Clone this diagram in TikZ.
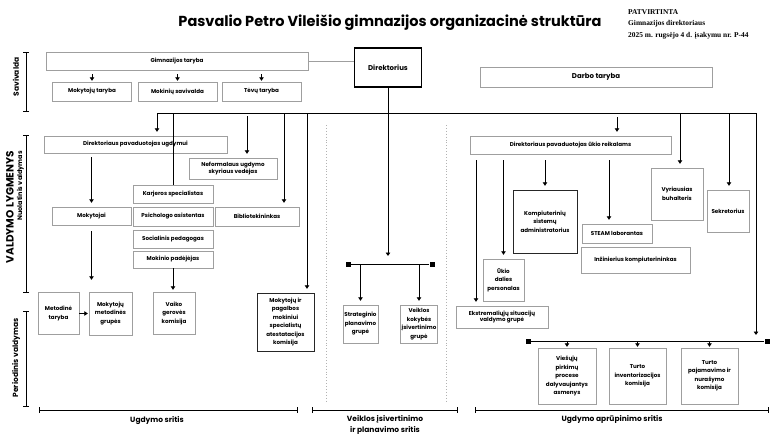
\documentclass[tikz,border=0pt]{standalone}
\usepackage{fontspec}
\setmainfont{Poppins}
\newfontfamily\timesfont{Liberation Serif}
\usetikzlibrary{arrows.meta,calc}

\begin{document}
\begin{tikzpicture}[
  x=1pt, y=-1pt,
  box/.style={draw=gray!75, fill=white, align=center, inner sep=1pt, font=\bfseries\fontsize{5.6}{8.5}\selectfont},
  bbox/.style={box, draw=black!85},
  arr/.style={-{Triangle[length=3.5pt,width=4.5pt]}, line width=1pt, shorten >=4pt},
  ln/.style={line width=1pt},
  brk/.style={{Bar[width=6pt]}-{Bar[width=6pt]}, line width=1pt},
  sq/.style={fill, minimum size=5pt, inner sep=0pt},
  lbl/.style={font=\bfseries\fontsize{7.5}{11.5}\selectfont, align=center, inner sep=0pt}
]
\useasboundingbox (0,0) rectangle (780,439);

\node[font=\bfseries\fontsize{14.5}{16}\selectfont] (title) at (390,23) {Pasvalio Petro Vileišio gimnazijos organizacinė struktūra};
\node[anchor=north west, align=left, inner sep=0pt, font=\timesfont\bfseries\fontsize{7.4}{11.5}\selectfont] (patv) at (628,9) {PATVIRTINTA\\Gimnazijos direktoriaus\\2025 m. rugsėjo 4 d. įsakymu nr. P-44};

\node[rotate=90, lbl] (sav) at (16,77) {Savivalda};
\node[rotate=90, anchor=east, lbl, font=\bfseries\fontsize{10.5}{12}\selectfont] (lyg) at (10,151) {VALDYMO LYGMENYS};
\node[rotate=90, anchor=east, lbl, font=\bfseries\fontsize{6.5}{8}\selectfont] (nuo) at (20.5,151) {Nuolatinis valdymas};
\node[rotate=90, lbl] (per) at (16,358) {Periodinis valdymas};
\draw[brk] (26,52) -- (26,112);
\draw[brk] (26,135) -- (26,293);
\draw[brk] (26,311) -- (26,407);

\node[box, minimum width=262pt, minimum height=18pt] (gt) at (177,61) {Gimnazijos taryba};
\node[box, draw=black, line width=1.3pt, minimum width=67pt, minimum height=39pt, font=\bfseries\fontsize{7}{8}\selectfont] (dir) at (388,67.5) {Direktorius};
\node[box, minimum width=79pt, minimum height=19pt] (mt) at (92,91.5) {Mokytojų taryba};
\node[box, minimum width=79pt, minimum height=19pt] (ms) at (177.5,91.5) {Mokinių savivalda};
\node[box, minimum width=79pt, minimum height=19pt] (tt) at (261.5,91.5) {Tėvų taryba};
\node[box, minimum width=232pt, minimum height=20pt, font=\bfseries\fontsize{7}{8}\selectfont] (dt) at (596,77) {Darbo taryba};

\node[box, minimum width=183pt, minimum height=17pt] (ugd) at (135.5,144.5) {Direktoriaus pavaduotojas ugdymui};
\node[box, minimum width=80pt, minimum height=18pt] (kar) at (173,194) {Karjeros specialistas};
\node[box, minimum width=80pt, minimum height=19pt] (psi) at (173,216.5) {Psichologo asistentas};
\node[box, minimum width=80pt, minimum height=18pt] (soc) at (173,239) {Socialinis pedagogas};
\node[box, minimum width=80pt, minimum height=17pt] (pad) at (173,259.5) {Mokinio padėjėjas};
\node[box, minimum width=88pt, minimum height=21pt] (nef) at (233,168.5) {Neformalaus ugdymo\\[-2pt]skyriaus vedėjas};
\node[box, minimum width=84pt, minimum height=19pt] (bib) at (257,216.5) {Bibliotekininkas};
\node[box, minimum width=79pt, minimum height=18pt] (mok) at (91.5,216) {Mokytojai};
\node[box, minimum width=41pt, minimum height=42pt] (met) at (58.5,313.5) {Metodinė\\taryba};
\node[box, minimum width=43pt, minimum height=43pt] (mmg) at (110.5,313.5) {Mokytojų\\metodinės\\grupės};
\node[box, minimum width=42pt, minimum height=42pt] (vgk) at (174,313) {Vaiko\\gerovės\\komisija};
\node[bbox, minimum width=57pt, minimum height=58pt] (atk) at (285.5,322) {Mokytojų ir\\pagalbos\\mokiniui\\specialistų\\atestatacijos\\komisija};

\node[box, minimum width=35pt, minimum height=38pt] (str) at (360.5,324) {Strateginio\\planavimo\\grupė};
\node[box, minimum width=36pt, minimum height=38pt] (vkg) at (419,324) {Veiklos\\kokybės\\įsivertinimo\\grupė};

\node[box, minimum width=201pt, minimum height=18pt] (uk) at (570.5,145) {Direktoriaus pavaduotojas ūkio reikalams};
\node[box, minimum width=52pt, minimum height=52pt] (vb) at (677,194) {Vyriausias\\buhalteris};
\node[box, minimum width=42pt, minimum height=42pt] (sek) at (728,211) {Sekretorius};
\node[bbox, minimum width=64pt, minimum height=63pt] (kom) at (545,221.5) {Kompiuterinių\\sistemų\\administratorius};
\node[box, minimum width=70pt, minimum height=19pt] (stm) at (617,233.5) {STEAM laborantas};
\node[box, minimum width=109pt, minimum height=26pt] (inz) at (635.5,260) {Inžinierius kompiuterininkas};
\node[box, minimum width=41pt, minimum height=42pt] (udp) at (503.5,280) {Ūkio\\dalies\\personalas};
\node[box, minimum width=92pt, minimum height=22pt] (eks) at (502,317) {Ekstremaliųjų situacijų\\[-2pt]valdymo grupė};
\node[box, minimum width=58pt, minimum height=56pt] (vpp) at (567,376) {Viešųjų\\pirkimų\\procese\\dalyvaujantys\\asmenys};
\node[box, minimum width=57pt, minimum height=56pt] (tik) at (637.5,376) {Turto\\inventorizacijos\\komisija};
\node[box, minimum width=57pt, minimum height=56pt] (tpn) at (709.5,376) {Turto\\pajamavimo ir\\nurašymo\\komisija};

\node[sq] (ml) at (348,264) {};
\node[sq] (mr) at (432,264) {};
\node[sq] (rl) at (528,341) {};
\node[sq] (rr) at (767,341) {};

\coordinate (busL) at (157,113);
\coordinate (busR) at (756,113);
\coordinate (dNef) at (247,113);
\coordinate (dBib) at (284,113);
\coordinate (dAtk) at (307,113);
\coordinate (dUk) at (617,113);
\coordinate (dVb) at (680,113);
\coordinate (dSek) at (729,113);
\coordinate (uEks) at (476,154);
\coordinate (uStm) at (609,154);

\draw[gray!75, line width=0.8pt] (gt.east) -- (gt.east -| dir.west);
\foreach \n in {mt,ms,tt}
  \draw[arr, shorten >=1pt] ($(gt.south -| \n)+(0,4)$) -- (\n);

\draw[arr, shorten >=8pt] (dir.south) -- (dir.south |- ml);
\draw[arr] (busR) -- (busL) -- (busL |- ugd.north);
\draw[arr, shorten >=6pt] (busL) -- (busR) -- (busR |- rr);
\draw[ln] (kar.north |- busL) -- (kar.north);
\draw[arr, shorten <=3pt] (dNef) -- (dNef |- nef.north);
\draw[arr] (dBib) -- (dBib |- bib.north);
\draw[arr] (dAtk) -- (dAtk |- atk.north);
\draw[arr, shorten <=4pt] (dUk) -- (dUk |- uk.north);
\draw[arr] (dVb) -- (dVb |- vb.north);
\draw[arr] (dSek) -- (dSek |- sek.north);

\draw[arr, shorten <=4pt] (mok.north |- ugd.south) -- (mok.north);
\draw[arr, shorten <=6pt, shorten >=12pt] (mok.south) -- (mok.south |- mmg.north);
\draw[arr, shorten >=1pt] (met.east) -- (mmg.west);
\draw[arr, shorten >=2pt] (pad.south) -- (pad.south |- vgk.north);

\draw[ln] (ml) -- (mr);
\draw[arr] (str.north |- ml) -- (str.north);
\draw[arr] (vkg.north |- ml) -- (vkg.north);

\draw[arr, shorten <=6pt] (uEks) -- (uEks |- eks.north);
\draw[arr, shorten <=6pt] (udp.north |- uk.south) -- (udp.north);
\draw[arr, shorten <=6pt] (kom.north |- uk.south) -- (kom.north);
\draw[arr, shorten <=6pt] (uStm) -- (uStm |- stm.north);

\draw[ln] (rl) -- (rr);
\foreach \n in {vpp,tik,tpn}
  \draw[arr, shorten >=1pt] (\n.north |- rl) -- (\n.north);

\draw[gray!60, dotted, line width=0.9pt] (326,125) -- (326,403);
\draw[gray!60, dotted, line width=0.9pt] (446,125) -- (446,403);

\draw[brk] (39,410) -- (298,410);
\draw[brk] (312,410) -- (458,410);
\draw[brk] (475,410) -- (769,410);
\node[lbl] (su) at (157,421) {Ugdymo sritis};
\node[lbl] (sv) at (385,425) {Veiklos įsivertinimo\\ir planavimo sritis};
\node[lbl] (sa) at (612,420) {Ugdymo aprūpinimo sritis};
\end{tikzpicture}
\end{document}
